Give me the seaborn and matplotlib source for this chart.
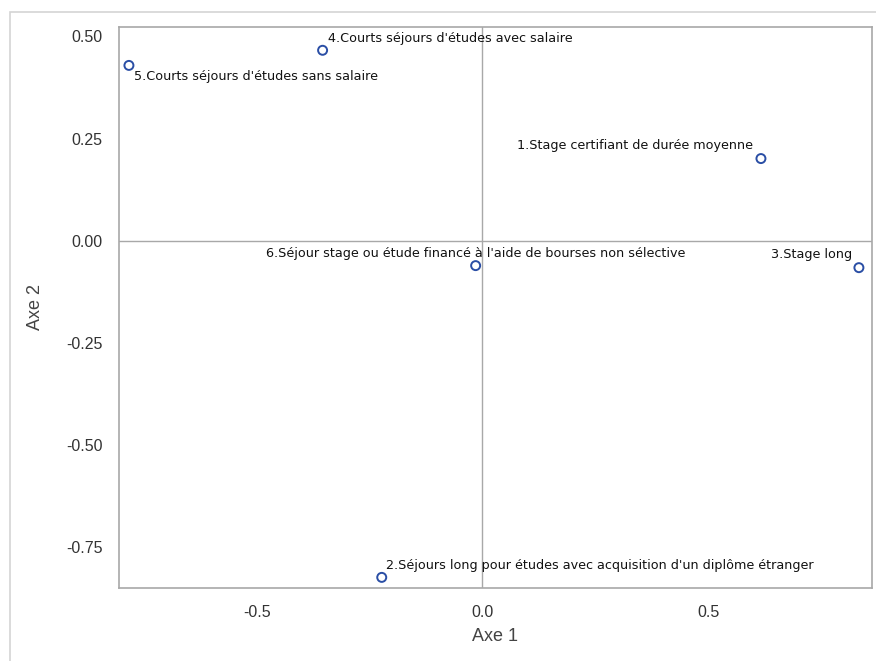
import numpy as np
import pandas as pd
import seaborn as sns
import matplotlib.pyplot as plt
from matplotlib.patches import Rectangle

labels = ["1.Stage certifiant de durée moyenne",
          "2.Séjours long pour études avec acquisition d'un diplôme étranger",
          "3.Stage long",
          "4.Courts séjours d'études avec salaire",
          "5.Courts séjours d'études sans salaire",
          "6.Séjour stage ou étude financé à l'aide de bourses non sélective"]
axe1 = [0.617, -0.223, 0.834, -0.354, -0.783, -0.015]
axe2 = [0.201, -0.824, -0.066, 0.466, 0.429, -0.061]

df = pd.DataFrame({"label": labels, "Axe 1": axe1, "Axe 2": axe2})

sns.set_style("white")
plt.rcParams['font.family'] = ['Liberation Sans', 'DejaVu Sans']

fig = plt.figure(figsize=(8.76, 6.61), dpi=100)
ax = fig.add_axes([119/876, 1-588/661, (872-119)/876, (588-27)/661])

# light outer frame like the SAS output
fig.patches.append(Rectangle((10/876, -0.2), 1.2, 1.2 - 12/661, transform=fig.transFigure,
                             fill=False, edgecolor="#d4d4d4", lw=1.2, zorder=0))

ax.axhline(0, color="#a8a8a8", lw=1, zorder=1)
ax.axvline(0, color="#a8a8a8", lw=1, zorder=1)

sns.scatterplot(data=df, x="Axe 1", y="Axe 2", ax=ax, marker="o", s=42,
                facecolor="none", edgecolor="#2a4ea5", linewidth=1.4, zorder=3)

# label placement (offset in points, alignment)
pos = {
    0: ((-6, 5), "right", "bottom"),
    1: ((3, 4), "left", "bottom"),
    2: ((-5, 5), "right", "bottom"),
    3: ((4, 4), "left", "bottom"),
    4: ((4, -3), "left", "top"),
    5: ((0, 4), "center", "bottom"),
}
for i, row in df.iterrows():
    off, ha, va = pos[i]
    ax.annotate(row["label"], (row["Axe 1"], row["Axe 2"]), xytext=off,
                textcoords="offset points", ha=ha, va=va, fontsize=9.2,
                family="DejaVu Sans", color="#111111", zorder=4)

ax.set_xlim(-0.805, 0.863)
ax.set_ylim(-0.85, 0.523)
ax.set_xticks([-0.5, 0.0, 0.5])
ax.set_xticklabels(["-0.5", "0.0", "0.5"], family="Liberation Sans")
ax.set_yticks([0.5, 0.25, 0.0, -0.25, -0.5, -0.75])
ax.set_yticklabels(["0.50", "0.25", "0.00", "-0.25", "-0.50", "-0.75"], family="Liberation Sans")

for s in ax.spines.values():
    s.set_color("#a8a8a8")
    s.set_linewidth(1.2)
ax.tick_params(axis="both", direction="out", length=6, width=1, color="#a8a8a8",
               labelsize=11.5, labelcolor="#333333", pad=6)
ax.set_xlabel("Axe 1", fontsize=13, family="Liberation Sans", color="#444444", labelpad=6)
ax.set_ylabel("Axe 2", fontsize=13, family="Liberation Sans", color="#444444", labelpad=16)

fig.savefig("out.png", dpi=100)
